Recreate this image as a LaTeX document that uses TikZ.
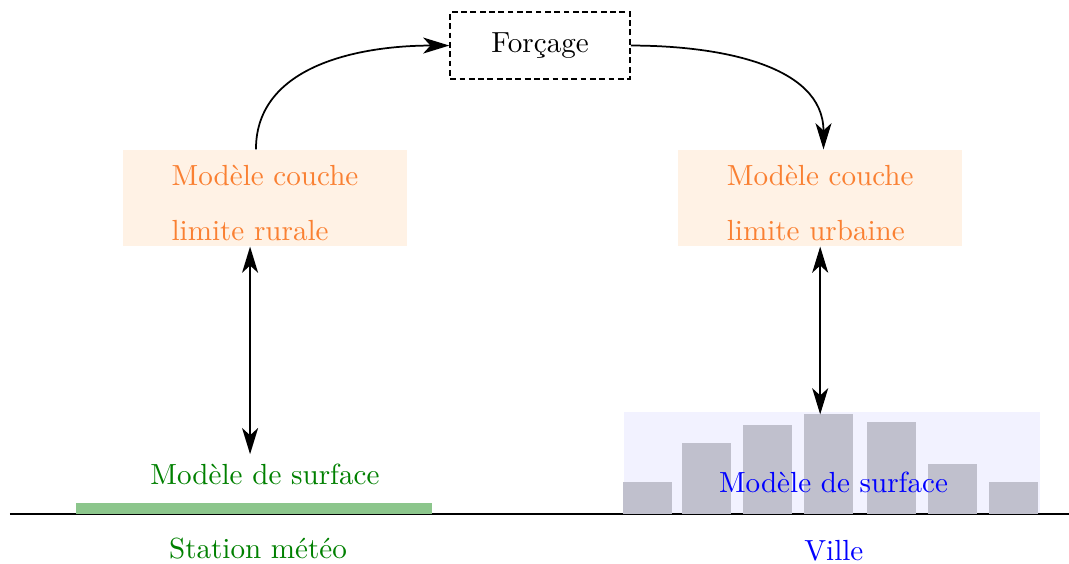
\documentclass[tikz,border=0pt]{standalone}
\usepackage{fontspec}
\usepackage{xcolor}
\usepackage{tikz}
\usetikzlibrary{arrows.meta, positioning}

\definecolor{couche}{RGB}{250,128,50}
\definecolor{bati}{RGB}{192,192,205}

\begin{document}
\begin{tikzpicture}[
        auto,
        couche/.style={
            rectangle,
            fill=orange!10,
            text=couche,
            align=left,
            minimum width=3.43cm,
            minimum height=1.16cm,
            text height=29.3pt,
            inner sep=0pt
        },
        forcage/.style={
            rectangle,
            draw,
            semithick,
            dash pattern=on 2pt off 1.2pt,
            minimum width=2.17cm,
            minimum height=0.81cm
        },
        rural/.style={
            text=green!50!black
        },
        urbain/.style={
            text=blue
        },
        line/.style={
            draw,
            semithick,
            -{Stealth[length=9pt, width=5.5pt, inset=2.5pt]}
        },
        dblline/.style={
            draw,
            semithick,
            {Stealth[length=9pt, width=5.5pt, inset=2.5pt]}-{Stealth[length=9pt, width=5.5pt, inset=2.5pt]}
        }
    ]
        \useasboundingbox (0,0) rectangle (12.91,-6.81);

        % Ground
        \draw (0.12,-6.208) -- (12.91,-6.208);
        \fill[green!50!black!45] (0.918,-6.208) rectangle (5.217,-6.075);

        % City
        \node [fill=blue!5, inner sep=0pt, minimum width=5.024cm, minimum height=1.22cm, anchor=south west] (city) at (7.524,-6.208) {};
        \foreach \x/\h in {7.524/0.386, 8.237/0.857, 8.973/1.075, 9.710/1.208, 10.471/1.111, 11.208/0.604, 11.944/0.386}
            \fill[bati] (\x,-6.208) rectangle ++(0.592,\h);

        % Nodes
        \node [forcage] (force) at (6.522,-0.55) {Forçage};
        \node [couche] (rurale) at (3.2,-2.391) {Modèle couche\\[6.9pt]limite rurale};
        \node [couche, right=3.261cm of rurale] (urbaine) {Modèle couche\\[6.9pt]limite urbaine};
        \node [rural, anchor=base] (surfR) at (3.2,-5.857) {Modèle de surface};
        \node [rural, anchor=base] (station) at (3.116,-6.739) {Station météo};
        \node [urbain, anchor=base] (surfU) at (10.066,-5.942) {Modèle de surface};
        \node [urbain, anchor=base] (ville) at (10.07,-6.763) {Ville};

        % Edges
        \draw [line] ([xshift=-0.109cm]rurale.north) to[out=90, in=180] (force.west);
        \draw [line] (force.east) to[out=0, in=90] ([xshift=0.04cm]urbaine.north);
        \draw [dblline] ([xshift=-0.18cm]rurale.south) -- ([xshift=-0.18cm]rurale.south |- surfR.north);
        \draw [dblline] (urbaine.south) -- ([yshift=-0.03cm]urbaine.south |- city.north);

    \end{tikzpicture}
\end{document}
